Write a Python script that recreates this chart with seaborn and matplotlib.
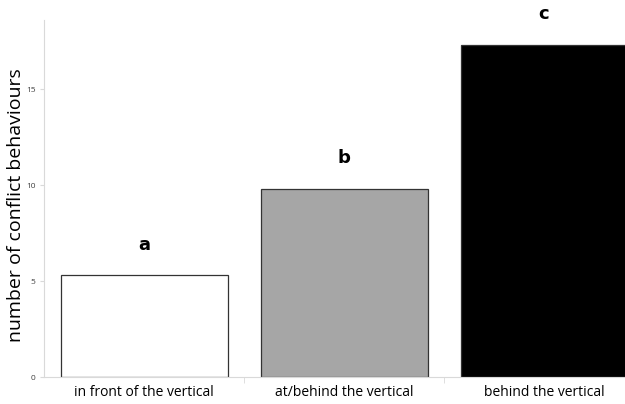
import pandas as pd
import matplotlib.pyplot as plt
import seaborn as sns

# values
positions = ['in front of the vertical', 'at/behind the vertical', 'behind the vertical']
conflicts = [5.3, 9.8, 17.3]
letters = ['a', 'b', 'c']
bar_colors = ['#ffffff', '#a6a6a6', '#000000']

df = pd.DataFrame({'position': positions, 'conflicts': conflicts})

sns.set_style('white')
plt.rcParams['font.family'] = ['Open Sans', 'DejaVu Sans']

fig = plt.figure(figsize=(6.25, 4.04), dpi=100)
ax = fig.add_axes([0.0704, 0.0668, 0.96, 0.8837])

sns.barplot(x='position', y='conflicts', data=df, hue='position',
            palette=bar_colors, legend=False, width=0.835,
            edgecolor='#333333', linewidth=0.9, ax=ax)

# significance letters above the bars
for i, (v, lab) in enumerate(zip(conflicts, letters)):
    ax.text(i, v + 1.6, lab, ha='center', va='center', fontsize=13,
            fontweight='bold', family='DejaVu Sans', color='black', clip_on=False)

ax.set_xlim(-0.5, 2.5)
ax.set_ylim(0, 18.6)
ax.set_yticks([0, 5, 10, 15])
ax.set_ylabel('number of conflict behaviours', fontsize=14, color='black')
ax.yaxis.set_label_coords(-0.032, 0.482)
ax.set_xlabel('')

ax.set_xticks([0, 1, 2])
ax.tick_params(axis='x', length=0, labelsize=10, pad=6, labelcolor='black')
ax.tick_params(axis='y', length=3, color='#d9d9d9', labelsize=6, labelcolor='#404040', pad=3, left=True)
# small tick marks between the categories
ax.set_xticks([0.5, 1.5], minor=True)
ax.tick_params(axis='x', which='minor', length=4, color='#d9d9d9', bottom=True)

for s in ['top', 'right']:
    ax.spines[s].set_visible(False)
for s in ['left', 'bottom']:
    ax.spines[s].set_color('#d9d9d9')
    ax.spines[s].set_linewidth(0.8)

plt.savefig('out.png', dpi=100)
